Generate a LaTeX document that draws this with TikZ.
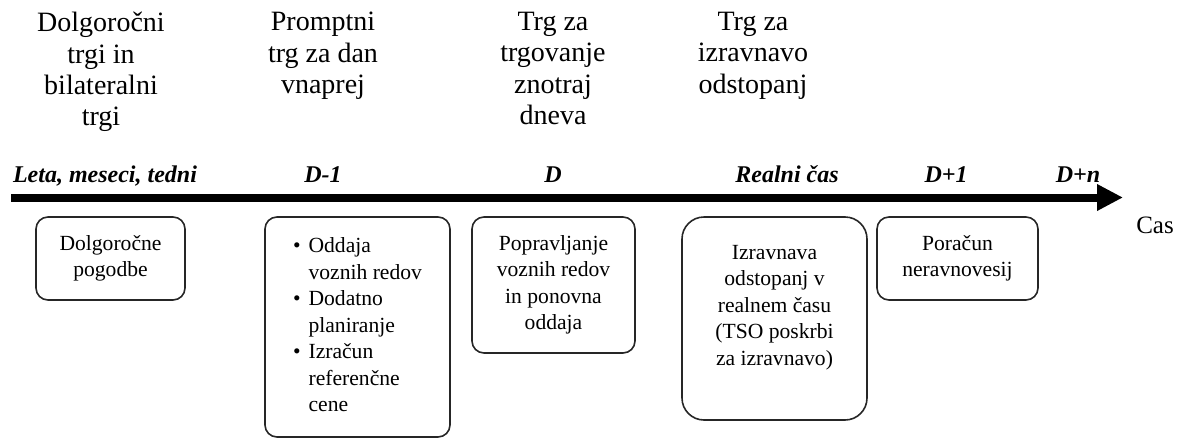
\documentclass[tikz,border=0pt]{standalone}
\usepackage{fontspec}
\setmainfont{Liberation Serif}
\usetikzlibrary{arrows.meta}

\tikzset{
  heading/.style={anchor=north, inner sep=0pt, align=center, font=\fontsize{14}{15.6}\selectfont},
  timelbl/.style={anchor=base, inner sep=0pt, font=\fontsize{12}{14}\selectfont\bfseries\itshape},
  phasebox/.style={draw=black!85, line width=0.8pt, rounded corners=6pt, align=center, inner sep=2pt, font=\fontsize{10.8}{13.25}\selectfont},
  timeaxis/.style={line width=4pt, -{Triangle[length=13pt,width=12.5pt]}}
}

\begin{document}
\begin{tikzpicture}[x=0.5pt,y=0.5pt,yscale=-1,xscale=1]
        \useasboundingbox (0,0) rectangle (1177,439);
        % Market headings
        \node [heading] (hlong) at (101,12) {Dolgoročni\\trgi in\\bilateralni\\trgi};
        \node [heading] (hday) at (323,12) {Promptni\\trg za dan\\vnaprej};
        \node [heading] (hintra) at (553,12) {Trg za\\trgovanje\\znotraj\\dneva};
        \node [heading] (hbal) at (753,12) {Trg za\\izravnavo\\odstopanj};
        % Time labels
        \node [timelbl] (tyears) at (105,182) {Leta, meseci, tedni};
        \node [timelbl] (tdm) at (323,182) {D-1};
        \node [timelbl] (td) at (553,182) {D};
        \node [timelbl] (treal) at (787,182) {Realni čas};
        \node [timelbl] (tdp) at (946,182) {D+1};
        \node [timelbl] (tdn) at (1078,182) {D+n};
        % Time axis
        \coordinate (axstart) at (11,197.5);
        \coordinate (axend) at (1123,197.5);
        \draw [timeaxis] (axstart) -- (axend);
        \node [font=\fontsize{12.5}{14}\selectfont] (cas) at (1155,225) {Cas};
        % Boxes
        \node [phasebox, minimum width=74.5pt, minimum height=41.5pt] (blong) at (110.5,258.5) {Dolgoročne\\pogodbe};
        \node [phasebox, minimum width=92.5pt, minimum height=110pt] (bday) at (357.5,327)
          {\begin{tabular}{@{}l@{\hspace{4pt}}l@{}}
           \textbullet & Oddaja\\ & voznih redov\\
           \textbullet & Dodatno\\ & planiranje\\
           \textbullet & Izračun\\ & referenčne\\ & cene
           \end{tabular}};
        \node [phasebox, minimum width=81.5pt, minimum height=68pt] (bintra) at (553.5,285) {Popravljanje\\voznih redov\\in ponovna\\oddaja};
        \node [phasebox, rounded corners=11pt, minimum width=92.5pt, minimum height=101.5pt] (bbal) at (774.5,318.5) {Izravnava\\odstopanj v\\realnem času\\(TSO poskrbi\\za izravnavo)\\ \mbox{}};
        \node [phasebox, minimum width=80.5pt, minimum height=41.5pt] (bset) at (957.5,258.5) {Poračun\\neravnovesij};
\end{tikzpicture}
\end{document}
